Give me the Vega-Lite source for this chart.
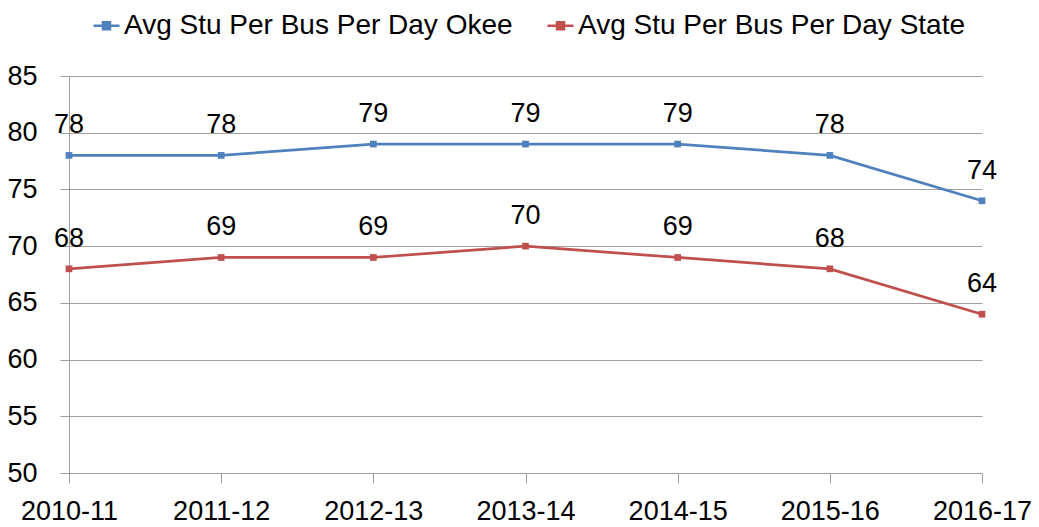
{
  "$schema": "https://vega.github.io/schema/vega-lite/v6.json",
  "width": 913,
  "height": 397,
  "autosize": {"type": "none"},
  "padding": {"left": 69, "top": 76, "right": 57, "bottom": 54},
  "background": "white",
  "config": {
    "font": "Liberation Sans",
    "view": {"stroke": null}
  },
  "data": {
    "values": [
      {"year": "2010-11", "series": "Avg Stu Per Bus Per Day Okee", "value": 78},
      {"year": "2011-12", "series": "Avg Stu Per Bus Per Day Okee", "value": 78},
      {"year": "2012-13", "series": "Avg Stu Per Bus Per Day Okee", "value": 79},
      {"year": "2013-14", "series": "Avg Stu Per Bus Per Day Okee", "value": 79},
      {"year": "2014-15", "series": "Avg Stu Per Bus Per Day Okee", "value": 79},
      {"year": "2015-16", "series": "Avg Stu Per Bus Per Day Okee", "value": 78},
      {"year": "2016-17", "series": "Avg Stu Per Bus Per Day Okee", "value": 74},
      {"year": "2010-11", "series": "Avg Stu Per Bus Per Day State", "value": 68},
      {"year": "2011-12", "series": "Avg Stu Per Bus Per Day State", "value": 69},
      {"year": "2012-13", "series": "Avg Stu Per Bus Per Day State", "value": 69},
      {"year": "2013-14", "series": "Avg Stu Per Bus Per Day State", "value": 70},
      {"year": "2014-15", "series": "Avg Stu Per Bus Per Day State", "value": 69},
      {"year": "2015-16", "series": "Avg Stu Per Bus Per Day State", "value": 68},
      {"year": "2016-17", "series": "Avg Stu Per Bus Per Day State", "value": 64}
    ]
  },
  "encoding": {
    "x": {
      "field": "year",
      "type": "ordinal",
      "scale": {"type": "point", "padding": 0},
      "axis": {
        "title": null,
        "labelAngle": 0,
        "labelFontSize": 27,
        "labelColor": "#000000",
        "labelPadding": 15,
        "labelLimit": 0,
        "tickSize": 10,
        "tickColor": "#A0A0A0",
        "domainColor": "#A0A0A0",
        "grid": false
      }
    },
    "y": {
      "field": "value",
      "type": "quantitative",
      "scale": {"domain": [50, 85], "nice": false, "zero": false},
      "axis": {
        "title": null,
        "values": [50, 55, 60, 65, 70, 75, 80, 85],
        "labelFontSize": 27,
        "labelColor": "#000000",
        "labelPadding": 23,
        "tickSize": 9,
        "tickColor": "#A0A0A0",
        "domainColor": "#A0A0A0",
        "gridColor": "#A0A0A0",
        "gridOpacity": 1
      }
    },
    "color": {
      "field": "series",
      "type": "nominal",
      "scale": {
        "domain": ["Avg Stu Per Bus Per Day Okee", "Avg Stu Per Bus Per Day State"],
        "range": ["#4F81BD", "#C0504D"]
      },
      "legend": {
        "title": null,
        "orient": "none",
        "direction": "horizontal",
        "legendX": 23,
        "legendY": -65,
        "labelFontSize": 28,
        "labelColor": "#000000",
        "labelLimit": 0,
        "labelOffset": 3,
        "columnPadding": 29,
        "symbolType": "M-1,0H1M-0.27,-0.27H0.27V0.27H-0.27Z",
        "symbolSize": 676,
        "symbolStrokeWidth": 2.5,
        "encode": {
          "symbols": {"update": {"fill": {"scale": "color", "field": "value"}, "fillOpacity": {"value": 1}}}
        }
      }
    }
  },
  "layer": [
    {
      "mark": {
        "type": "line",
        "strokeWidth": 2.75,
        "point": {"shape": "square", "filled": true, "size": 45, "opacity": 1}
      }
    },
    {
      "mark": {"type": "text", "fontSize": 27, "dy": -30, "color": "#000000"},
      "encoding": {
        "text": {"field": "value", "type": "quantitative"},
        "color": {"value": "#000000"}
      }
    }
  ]
}
